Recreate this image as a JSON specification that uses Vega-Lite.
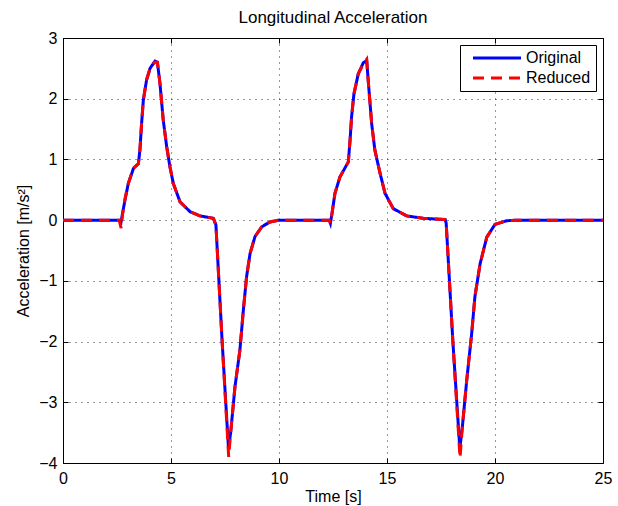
{
  "$schema": "https://vega.github.io/schema/vega-lite/v6.json",
  "width": 540,
  "height": 425,
  "autosize": "none",
  "padding": {"left": 63, "top": 38, "right": 15, "bottom": 43},
  "title": {"text": "Longitudinal Acceleration", "font": "Liberation Sans", "fontSize": 17, "fontWeight": "normal", "color": "black", "offset": 3},
  "config": {
    "view": {"stroke": "black", "strokeWidth": 1},
    "axis": {
      "labelFont": "Liberation Sans", "labelFontSize": 16, "labelColor": "black", "labelFlush": false, "labelOverlap": false,
      "titleFont": "Liberation Sans", "titleFontSize": 16, "titleFontWeight": "normal", "titleColor": "black",
      "domain": false, "tickSize": -5, "tickColor": "black",
      "grid": true, "gridColor": "black", "gridDash": [1, 5], "gridOpacity": 0.8
    },
    "legend": {
      "labelFont": "Liberation Sans", "labelFontSize": 16, "labelColor": "black"
    }
  },
  "data": {"values": [
    {"t":0,"a":0,"s":"Original"},{"t":2.6,"a":0,"s":"Original"},{"t":2.68,"a":-0.05,"s":"Original"},{"t":2.75,"a":0.1,"s":"Original"},{"t":2.87,"a":0.33,"s":"Original"},{"t":3.02,"a":0.6,"s":"Original"},{"t":3.26,"a":0.85,"s":"Original"},{"t":3.49,"a":0.93,"s":"Original"},{"t":3.56,"a":1.15,"s":"Original"},{"t":3.64,"a":1.6,"s":"Original"},{"t":3.72,"a":1.98,"s":"Original"},{"t":3.87,"a":2.31,"s":"Original"},{"t":4.03,"a":2.5,"s":"Original"},{"t":4.26,"a":2.62,"s":"Original"},{"t":4.37,"a":2.6,"s":"Original"},{"t":4.49,"a":2.25,"s":"Original"},{"t":4.64,"a":1.65,"s":"Original"},{"t":4.8,"a":1.21,"s":"Original"},{"t":4.95,"a":0.88,"s":"Original"},{"t":5.11,"a":0.6,"s":"Original"},{"t":5.42,"a":0.3,"s":"Original"},{"t":5.88,"a":0.14,"s":"Original"},{"t":6.34,"a":0.07,"s":"Original"},{"t":6.96,"a":0.03,"s":"Original"},{"t":7.08,"a":-0.08,"s":"Original"},{"t":7.36,"a":-1.95,"s":"Original"},{"t":7.66,"a":-3.75,"s":"Original"},{"t":7.76,"a":-3.51,"s":"Original"},{"t":7.96,"a":-2.75,"s":"Original"},{"t":8.19,"a":-2.14,"s":"Original"},{"t":8.35,"a":-1.48,"s":"Original"},{"t":8.5,"a":-0.93,"s":"Original"},{"t":8.66,"a":-0.55,"s":"Original"},{"t":8.89,"a":-0.27,"s":"Original"},{"t":9.2,"a":-0.11,"s":"Original"},{"t":9.58,"a":-0.03,"s":"Original"},{"t":10,"a":0,"s":"Original"},{"t":12.33,"a":0,"s":"Original"},{"t":12.38,"a":-0.05,"s":"Original"},{"t":12.45,"a":0.1,"s":"Original"},{"t":12.59,"a":0.44,"s":"Original"},{"t":12.82,"a":0.71,"s":"Original"},{"t":13.21,"a":0.96,"s":"Original"},{"t":13.29,"a":1.32,"s":"Original"},{"t":13.36,"a":1.7,"s":"Original"},{"t":13.47,"a":2.08,"s":"Original"},{"t":13.67,"a":2.41,"s":"Original"},{"t":13.9,"a":2.59,"s":"Original"},{"t":14.06,"a":2.63,"s":"Original"},{"t":14.13,"a":2.3,"s":"Original"},{"t":14.29,"a":1.59,"s":"Original"},{"t":14.44,"a":1.15,"s":"Original"},{"t":14.68,"a":0.77,"s":"Original"},{"t":14.91,"a":0.44,"s":"Original"},{"t":15.29,"a":0.19,"s":"Original"},{"t":15.91,"a":0.07,"s":"Original"},{"t":16.68,"a":0.03,"s":"Original"},{"t":17.69,"a":0.01,"s":"Original"},{"t":17.74,"a":-0.05,"s":"Original"},{"t":18.05,"a":-2.0,"s":"Original"},{"t":18.37,"a":-3.76,"s":"Original"},{"t":18.49,"a":-3.4,"s":"Original"},{"t":18.69,"a":-2.64,"s":"Original"},{"t":18.92,"a":-1.87,"s":"Original"},{"t":19.07,"a":-1.26,"s":"Original"},{"t":19.31,"a":-0.72,"s":"Original"},{"t":19.62,"a":-0.28,"s":"Original"},{"t":20,"a":-0.07,"s":"Original"},{"t":20.54,"a":-0.01,"s":"Original"},{"t":21,"a":0,"s":"Original"},{"t":25,"a":0,"s":"Original"},
    {"t":0,"a":0,"s":"Reduced"},{"t":2.6,"a":0,"s":"Reduced"},{"t":2.69,"a":-0.13,"s":"Reduced"},{"t":2.76,"a":0.1,"s":"Reduced"},{"t":2.87,"a":0.35,"s":"Reduced"},{"t":3.02,"a":0.6,"s":"Reduced"},{"t":3.26,"a":0.86,"s":"Reduced"},{"t":3.49,"a":0.93,"s":"Reduced"},{"t":3.56,"a":1.15,"s":"Reduced"},{"t":3.64,"a":1.6,"s":"Reduced"},{"t":3.72,"a":1.98,"s":"Reduced"},{"t":3.87,"a":2.31,"s":"Reduced"},{"t":4.03,"a":2.5,"s":"Reduced"},{"t":4.24,"a":2.6,"s":"Reduced"},{"t":4.37,"a":2.6,"s":"Reduced"},{"t":4.49,"a":2.25,"s":"Reduced"},{"t":4.64,"a":1.65,"s":"Reduced"},{"t":4.8,"a":1.21,"s":"Reduced"},{"t":4.95,"a":0.88,"s":"Reduced"},{"t":5.11,"a":0.6,"s":"Reduced"},{"t":5.42,"a":0.3,"s":"Reduced"},{"t":5.88,"a":0.14,"s":"Reduced"},{"t":6.34,"a":0.07,"s":"Reduced"},{"t":6.96,"a":0.03,"s":"Reduced"},{"t":7.08,"a":-0.08,"s":"Reduced"},{"t":7.36,"a":-1.95,"s":"Reduced"},{"t":7.67,"a":-3.9,"s":"Reduced"},{"t":7.76,"a":-3.51,"s":"Reduced"},{"t":7.96,"a":-2.75,"s":"Reduced"},{"t":8.19,"a":-2.14,"s":"Reduced"},{"t":8.35,"a":-1.48,"s":"Reduced"},{"t":8.5,"a":-0.93,"s":"Reduced"},{"t":8.66,"a":-0.55,"s":"Reduced"},{"t":8.89,"a":-0.27,"s":"Reduced"},{"t":9.2,"a":-0.11,"s":"Reduced"},{"t":9.58,"a":-0.03,"s":"Reduced"},{"t":10,"a":0,"s":"Reduced"},{"t":12.33,"a":0,"s":"Reduced"},{"t":12.38,"a":-0.05,"s":"Reduced"},{"t":12.45,"a":0.1,"s":"Reduced"},{"t":12.59,"a":0.44,"s":"Reduced"},{"t":12.82,"a":0.71,"s":"Reduced"},{"t":13.21,"a":0.96,"s":"Reduced"},{"t":13.29,"a":1.32,"s":"Reduced"},{"t":13.36,"a":1.7,"s":"Reduced"},{"t":13.47,"a":2.08,"s":"Reduced"},{"t":13.67,"a":2.41,"s":"Reduced"},{"t":13.9,"a":2.57,"s":"Reduced"},{"t":14.06,"a":2.65,"s":"Reduced"},{"t":14.13,"a":2.3,"s":"Reduced"},{"t":14.29,"a":1.59,"s":"Reduced"},{"t":14.44,"a":1.15,"s":"Reduced"},{"t":14.68,"a":0.77,"s":"Reduced"},{"t":14.91,"a":0.44,"s":"Reduced"},{"t":15.29,"a":0.19,"s":"Reduced"},{"t":15.91,"a":0.07,"s":"Reduced"},{"t":16.68,"a":0.03,"s":"Reduced"},{"t":17.69,"a":0.01,"s":"Reduced"},{"t":17.74,"a":-0.05,"s":"Reduced"},{"t":18.05,"a":-2.0,"s":"Reduced"},{"t":18.38,"a":-3.92,"s":"Reduced"},{"t":18.49,"a":-3.4,"s":"Reduced"},{"t":18.69,"a":-2.64,"s":"Reduced"},{"t":18.92,"a":-1.87,"s":"Reduced"},{"t":19.07,"a":-1.26,"s":"Reduced"},{"t":19.31,"a":-0.72,"s":"Reduced"},{"t":19.62,"a":-0.28,"s":"Reduced"},{"t":20,"a":-0.07,"s":"Reduced"},{"t":20.54,"a":-0.01,"s":"Reduced"},{"t":21,"a":0,"s":"Reduced"},{"t":25,"a":0,"s":"Reduced"}
  ]},
  "layer": [
    {
      "mark": {"type": "line", "strokeWidth": 3, "clip": true},
      "encoding": {
        "x": {"field": "t", "type": "quantitative", "scale": {"domain": [0, 25], "nice": false, "zero": false},
              "axis": {"title": "Time [s]", "values": [0, 5, 10, 15, 20, 25], "labelPadding": 12, "titlePadding": 2}},
        "y": {"field": "a", "type": "quantitative", "scale": {"domain": [-4, 3], "nice": false, "zero": false},
              "axis": {"title": "Acceleration [m/s²]", "values": [-4, -3, -2, -1, 0, 1, 2, 3], "labelPadding": 11, "titlePadding": 7}},
        "color": {"field": "s", "type": "nominal", "scale": {"domain": ["Original", "Reduced"], "range": ["#0000ff", "#ff0000"]},
                  "legend": {"title": null, "orient": "top-right", "offset": 7, "symbolType": "M0,0H9.6", "symbolSize": 100, "symbolStrokeWidth": 3,
                             "strokeColor": "black", "fillColor": "white", "padding": 5, "rowPadding": 4, "labelOffset": 45, "cornerRadius": 0}},
        "strokeDash": {"field": "s", "type": "nominal", "scale": {"domain": ["Original", "Reduced"], "range": [[1, 0], [11, 7]]},
                  "legend": {"title": null, "orient": "top-right", "offset": 7, "symbolType": "M0,0H9.6", "symbolSize": 100, "symbolStrokeWidth": 3,
                             "strokeColor": "black", "fillColor": "white", "padding": 5, "rowPadding": 4, "labelOffset": 45, "cornerRadius": 0}}
      }
    },
    {
      "mark": {"type": "point", "opacity": 0},
      "encoding": {
        "x": {"field": "t", "type": "quantitative", "axis": {"orient": "top", "labels": false, "title": null, "grid": false, "values": [0, 5, 10, 15, 20, 25]}},
        "y": {"field": "a", "type": "quantitative", "axis": {"orient": "right", "labels": false, "title": null, "grid": false, "values": [-4, -3, -2, -1, 0, 1, 2, 3]}}
      }
    }
  ],
  "resolve": {"axis": {"x": "independent", "y": "independent"}}
}
